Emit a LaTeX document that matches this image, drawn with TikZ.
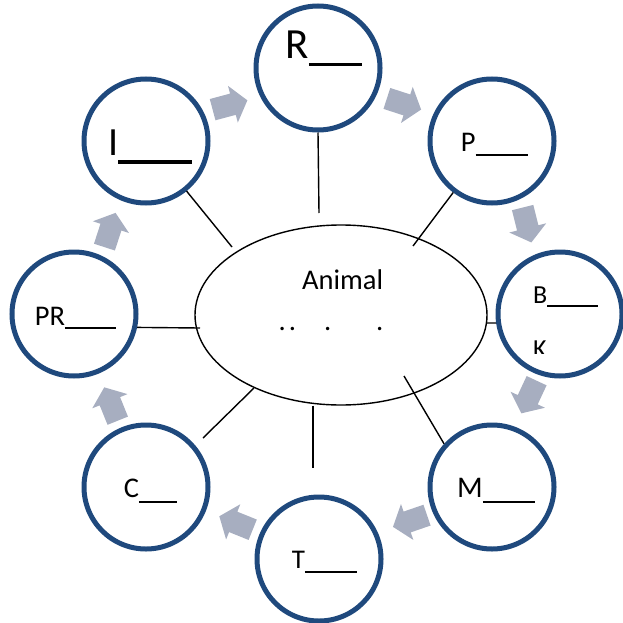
\documentclass[tikz,border=0pt]{standalone}
\usepackage{fontspec}
\setmainfont{Carlito}
\usetikzlibrary{shapes,calc}
\definecolor{ringblue}{HTML}{1F497D}
\definecolor{arrowgray}{HTML}{A7AEC0}
% a blank to fill in: [thickness]{width}{drop below baseline}
\newcommand{\blank}[3][2.5pt]{\rule[-#3]{#2}{#1}}
\newcommand{\fsize}[1]{\fontsize{#1}{#1}\selectfont}

\begin{document}
\begin{tikzpicture}[x=1pt, y=-1pt,
        ring/.style={circle, draw=ringblue, line width=5pt, minimum size=124pt}, % the eight answer circles
        flow/.pic={\fill[arrowgray] (-18,-11) -- (3,-11) -- (3,-19) -- (18,0) -- (3,19) -- (3,11) -- (-18,11) -- cycle;}, % grey block arrow
        link/.style={line width=1.4pt}, % spokes to the centre
        lbl/.style={anchor=base west, inner sep=0pt},
    ]
    \useasboundingbox (0,0) rectangle (622,623);

    % centre
    \node (animal) [ellipse, draw, line width=1.4pt, minimum width=292pt, minimum height=180pt] at (341,315) {};
    \node (animaltxt) [lbl, font=\fsize{28.5}] at (302,289) {Animal};
    \node (dots) [lbl, font=\fsize{28.5}] at (278.5,330) {.\hspace{3pt}.\hspace{28pt}.\hspace{45pt}.};

    % circles
    \node (r)  [ring] at (318,68)  {};
    \node (p)  [ring] at (492,141) {};
    \node (b)  [ring] at (560,314) {};
    \node (m)  [ring] at (492,487) {};
    \node (t)  [ring] at (319,559) {};
    \node (c)  [ring] at (146,487) {};
    \node (pr) [ring] at (74,314)  {};
    \node (i)  [ring] at (146,141) {};

    % labels
    \node (rtxt)  [lbl, font=\fsize{43}]   at (285.4,59)  {R\blank[3pt]{53pt}{7.5pt}};
    \node (ptxt)  [lbl, font=\fsize{28.5}] at (460.6,151) {P\blank{52pt}{5.25pt}};
    \node (btxt)  [lbl, font=\fsize{26}]   at (532.9,303) {B\blank{51pt}{4.25pt}};
    \begin{scope}
        \clip (500,300) rectangle (622,353);
        \node (ktxt) [lbl, font=\fsize{26}] at (532.9,357) {K};
    \end{scope}
    \node (mtxt)  [lbl, font=\fsize{30}]   at (456.9,497) {M\blank{52pt}{6.25pt}};
    \node (ttxt)  [lbl, font=\fsize{27}]   at (291.6,568) {T\blank{52pt}{5.25pt}};
    \node (ctxt)  [lbl, font=\fsize{28.5}] at (123.6,497) {C\blank{38pt}{6.25pt}};
    \node (prtxt) [lbl, font=\fsize{28.5}] at (34.6,325)  {PR\blank{51pt}{4.25pt}};
    \node (itxt)  [lbl, font=\fsize{40}]   at (108.2,155) {I\blank[4pt]{74pt}{9pt}};

    % spokes
    \coordinate (rend)  at (319,213);
    \coordinate (pend)  at (413,246);
    \coordinate (bend)  at (487,323);
    \coordinate (mend)  at (404,376);
    \coordinate (tend)  at (313,468);
    \coordinate (cend)  at (203,438);
    \coordinate (prend) at (200,328);
    \coordinate (iend)  at (232,247);
    \draw[link] (r.south) -- (rend);
    \draw[link] (p.233) -- (pend);
    \draw[link] (bend) -- (b.188);
    \draw[link] (mend) -- (m.138);
    \draw[link] (animal.south -| tend) -- (tend);
    \draw[link] (animal.220) -- (cend);
    \draw[link] (prend) -- (pr.-12);
    \draw[link] (i.-51) -- (iend);

    % arrows round the ring
    \pic[rotate=15]   at (230,105) {flow};
    \pic[rotate=-18]  at (404,104) {flow};
    \pic[rotate=-76]  at (527,225) {flow};
    \pic[rotate=-115] at (529,397) {flow};
    \pic[rotate=199]  at (410,521) {flow};
    \pic[rotate=158]  at (236,523) {flow};
    \pic[rotate=112]  at (111,404) {flow};
    \pic[rotate=72]   at (110,230) {flow};
\end{tikzpicture}
\end{document}
